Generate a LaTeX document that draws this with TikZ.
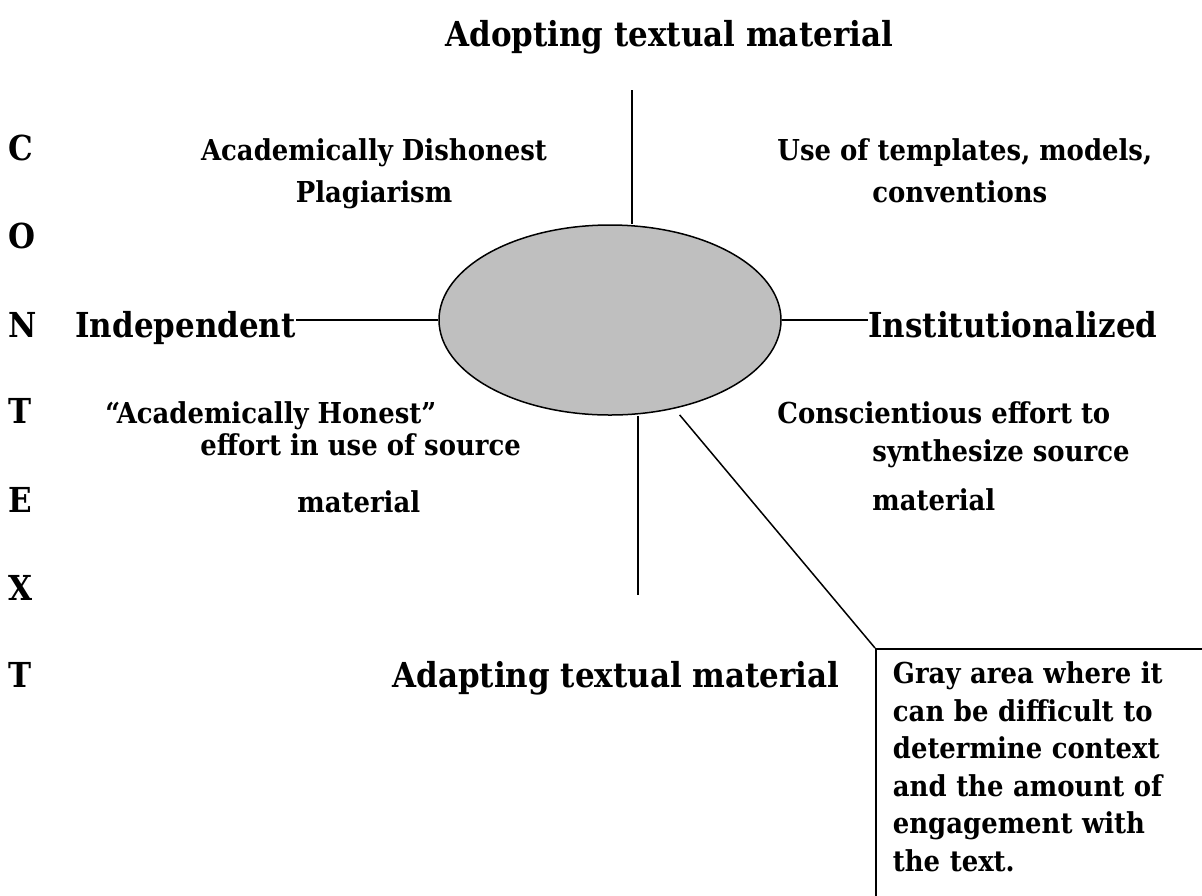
\documentclass[tikz,border=0pt]{standalone}
\usepackage{fontspec}
\setmainfont{DejaVu Serif}[FakeStretch=0.9]
\usetikzlibrary{shapes.geometric}
\newcommand{\bigtxt}{\fontsize{17.2}{20}\selectfont\bfseries}
\newcommand{\smalltxt}{\fontsize{14.4}{18.75}\selectfont\bfseries}
\begin{document}
\begin{tikzpicture}[x=0.5pt,y=-0.5pt,
	big/.style={font=\bigtxt, inner sep=0pt},
	small/.style={font=\smalltxt, inner sep=0pt},
	rule/.style={line width=0.75pt}]
			\clip (0,0) rectangle (1202,895);
			% axis ends and the gray area
			\node[ellipse, draw, rule, fill=black!25, minimum width=171pt, minimum height=95pt, inner sep=0pt] (ell) at (610,320) {};
			\coordinate (topend) at (632,90);
			\coordinate (botend) at (638,595);
			\node[big, anchor=base west] (adopt) at (445,46) {Adopting textual material};
			\node[big, anchor=base west] (adapt) at (392,687) {Adapting textual material};
			\node[big, anchor=base west] (indep) at (75,337) {Independent};
			\node[big, anchor=base west] (inst) at (868,337) {Institutionalized};
			% C O N T E X T down the left side
			\foreach \l/\y [count=\i] in {C/160,O/248,N/337,T/423,E/512,X/600,T/687}
				\node[big, anchor=base west] (ctx\i) at (8,\y) {\l};
			% quadrant labels
			\node[small, anchor=base] (dish) at (374,160) {Academically Dishonest};
			\node[small, anchor=base] (plag) at (374,202) {Plagiarism};
			\node[small, anchor=base west] (tmpl) at (777,160) {Use of templates, models,};
			\node[small, anchor=base west] (conv) at (872,202) {conventions};
			\node[small, anchor=base west] (hon) at (105,423) {“Academically Honest”};
			\node[small, anchor=base west] (hon2) at (200,455) {effort in use of source};
			\node[small, anchor=base west] (hon3) at (297,512) {material};
			\node[small, anchor=base west] (cons) at (777,423) {Conscientious effort to};
			\node[small, anchor=base west] (cons2) at (872,461) {synthesize source};
			\node[small, anchor=base west] (cons3) at (872,510) {material};
			\node[draw, line width=0.9pt, anchor=north west, align=left, font=\smalltxt,
				inner xsep=8.5pt, inner ysep=6.5pt, text width=200pt, text depth=140pt] (note) at (875,648)
				{Gray area where it\\can be difficult to\\determine context\\and the amount of\\engagement with\\the text.};
			\draw[rule] (topend) -- (topend |- ell.north);
			\draw[rule] (botend |- ell.south) -- (botend);
			\draw[rule] (indep.east |- ell.west) -- (ell.west);
			\draw[rule] (ell.east) -- (ell.east -| inst.west);
			\draw[rule, shorten <=4pt] (ell.-54) -- (note.north west);
			\end{tikzpicture}
\end{document}
